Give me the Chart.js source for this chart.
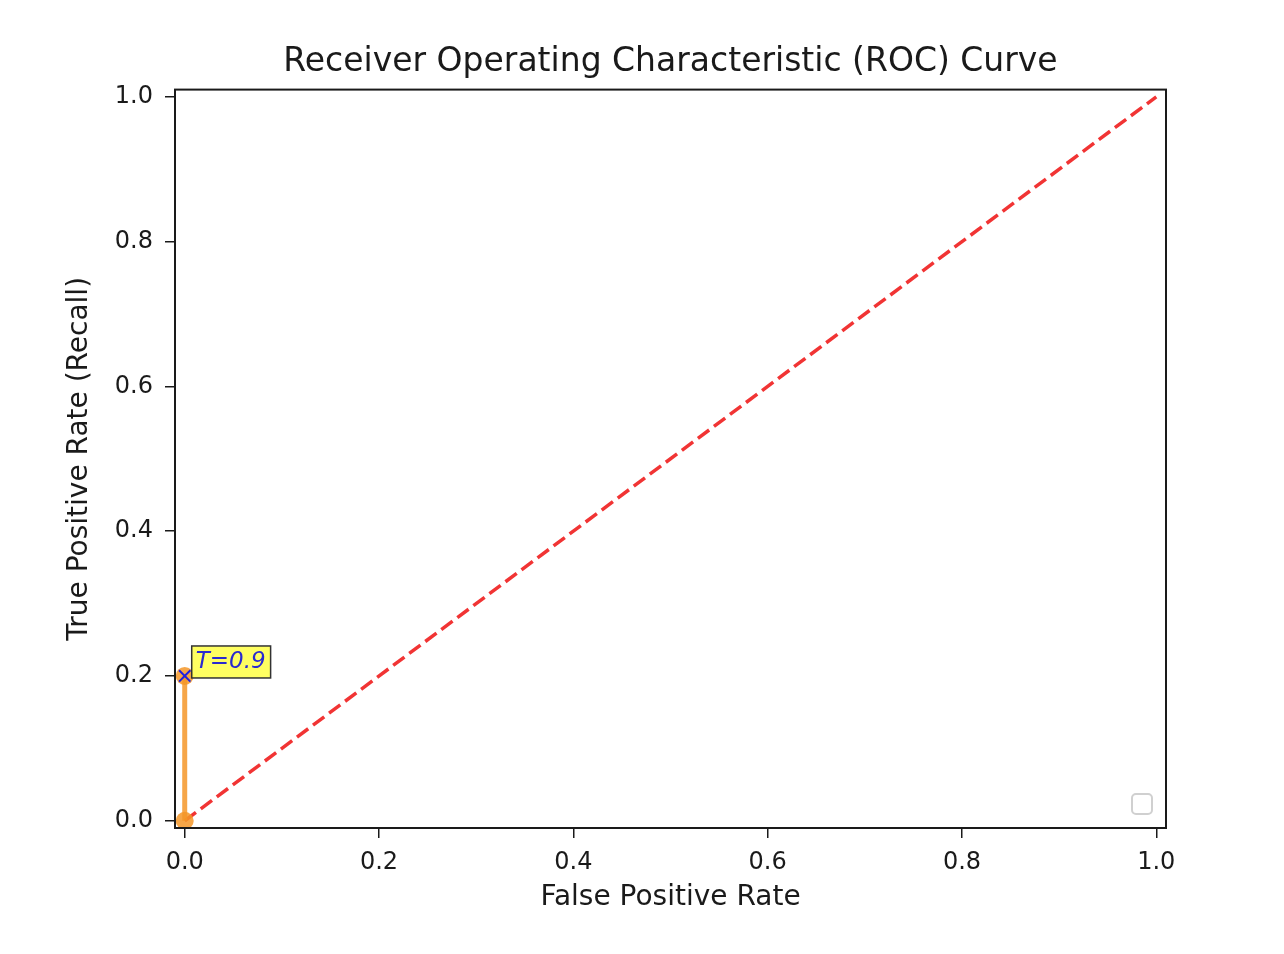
<!DOCTYPE html>
<html>
<head>
<meta charset="utf-8">
<script src="https://cdn.jsdelivr.net/npm/chart.js@4.4.1/dist/chart.umd.min.js"></script>
<style>
  html, body { margin: 0; padding: 0; background: #fff; }
  #wrap { width: 1284px; height: 954px; }
</style>
</head>
<body>
<div id="wrap"><canvas id="rocChart" width="1284" height="954"></canvas></div>
<script>
// ROC data
const rocFpr = [0.0, 0.0];
const rocTpr = [0.0, 0.2];
const diagX = [0.0, 1.0];
const diagY = [0.0, 1.0];
const markFpr = [0.0];
const markTpr = [0.2];
const markLabel = "T=0.9";
const tickValues = [0.0, 0.2, 0.4, 0.6, 0.8, 1.0];
const tickLabels = ["0.0", "0.2", "0.4", "0.6", "0.8", "1.0"];

const FONT = "'DejaVu Sans', sans-serif";
const INK = "#1a1a1a";

function toPoints(xs, ys) {
  return xs.map((x, i) => ({ x: x, y: ys[i] }));
}

// frame, empty legend box and the threshold note
const extras = {
  id: "extras",
  afterDatasetsDraw(chart) {
    const ctx = chart.ctx;
    const a = chart.chartArea;
    ctx.save();
    ctx.strokeStyle = INK;
    ctx.lineWidth = 2;
    ctx.strokeRect(a.left, a.top, a.right - a.left, a.bottom - a.top);

    // empty legend
    ctx.strokeStyle = "#d0d0d0";
    ctx.lineWidth = 2;
    ctx.beginPath();
    ctx.roundRect(a.right - 34, a.bottom - 34, 20, 20, 4);
    ctx.stroke();

    // threshold note next to the marker
    const xs = chart.scales.x, ys = chart.scales.y;
    const px = xs.getPixelForValue(markFpr[0]);
    const py = ys.getPixelForValue(markTpr[0]);
    ctx.font = "oblique 23px " + FONT;
    const w = ctx.measureText(markLabel).width + 9;
    const bx = px + 7, by = py - 30, bh = 32;
    ctx.fillStyle = "rgba(255,255,80,0.9)";
    ctx.fillRect(bx, by, w, bh);
    ctx.strokeStyle = "#333";
    ctx.lineWidth = 1.5;
    ctx.strokeRect(bx, by, w, bh);
    ctx.fillStyle = "#2a2ad0";
    ctx.textBaseline = "middle";
    ctx.fillText(markLabel, bx + 4, by + bh / 2);
    ctx.restore();
  }
};

const ctx = document.getElementById("rocChart").getContext("2d");
new Chart(ctx, {
  type: "scatter",
  data: {
    datasets: [
      {
        label: "diag",
        data: toPoints(diagX, diagY),
        showLine: true,
        borderColor: "rgba(240,30,30,0.9)",
        borderWidth: 3.5,
        borderDash: [14, 6],
        pointRadius: 0,
        order: 3
      },
      {
        label: "roc",
        data: toPoints(rocFpr, rocTpr),
        showLine: true,
        clip: 0,
        borderColor: "rgba(245,150,40,0.85)",
        backgroundColor: "rgba(245,150,40,0.85)",
        borderWidth: 5,
        pointRadius: 9,
        pointBorderWidth: 0,
        order: 2
      },
      {
        label: "mark",
        data: toPoints(markFpr, markTpr),
        pointStyle: "crossRot",
        pointRadius: 8,
        borderColor: "#2020e0",
        pointBorderWidth: 2,
        order: 1
      }
    ]
  },
  options: {
    responsive: false,
    animation: false,
    layout: { padding: { top: 0, right: 118, left: 0, bottom: 0 } },
    plugins: {
      legend: { display: false },
      tooltip: { enabled: false },
      title: {
        display: true,
        fullSize: false,
        text: "Receiver Operating Characteristic (ROC) Curve",
        color: INK,
        font: { family: FONT, size: 33, weight: "normal" },
        padding: { top: 43, bottom: 7 }
      }
    },
    scales: {
      x: {
        type: "linear",
        min: -0.01,
        max: 1.01,
        afterBuildTicks: (s) => { s.ticks = tickValues.map((v) => ({ value: v })); },
        afterFit: (s) => { s.height = 126; },
        grid: { drawOnChartArea: false, drawTicks: true, tickLength: 10, color: INK, lineWidth: 1.5 },
        border: { display: false },
        ticks: {
          color: INK,
          padding: 10,
          maxRotation: 0,
          font: { family: FONT, size: 24 },
          callback: (v, i) => tickLabels[i]
        },
        title: {
          display: true,
          text: "False Positive Rate",
          color: INK,
          font: { family: FONT, size: 28 },
          padding: { top: 0, bottom: 39 }
        }
      },
      y: {
        type: "linear",
        min: -0.01,
        max: 1.01,
        afterBuildTicks: (s) => { s.ticks = tickValues.map((v) => ({ value: v })); },
        afterFit: (s) => { s.width = 175; },
        grid: { drawOnChartArea: false, drawTicks: true, tickLength: 10, color: INK, lineWidth: 1.5 },
        border: { display: false },
        ticks: {
          color: INK,
          padding: 12,
          font: { family: FONT, size: 24 },
          callback: (v, i) => tickLabels[i]
        },
        title: {
          display: true,
          text: "True Positive Rate (Recall)",
          color: INK,
          font: { family: FONT, size: 28 },
          padding: { top: 63, bottom: 0 }
        }
      }
    }
  },
  plugins: [extras]
});
</script>
</body>
</html>
